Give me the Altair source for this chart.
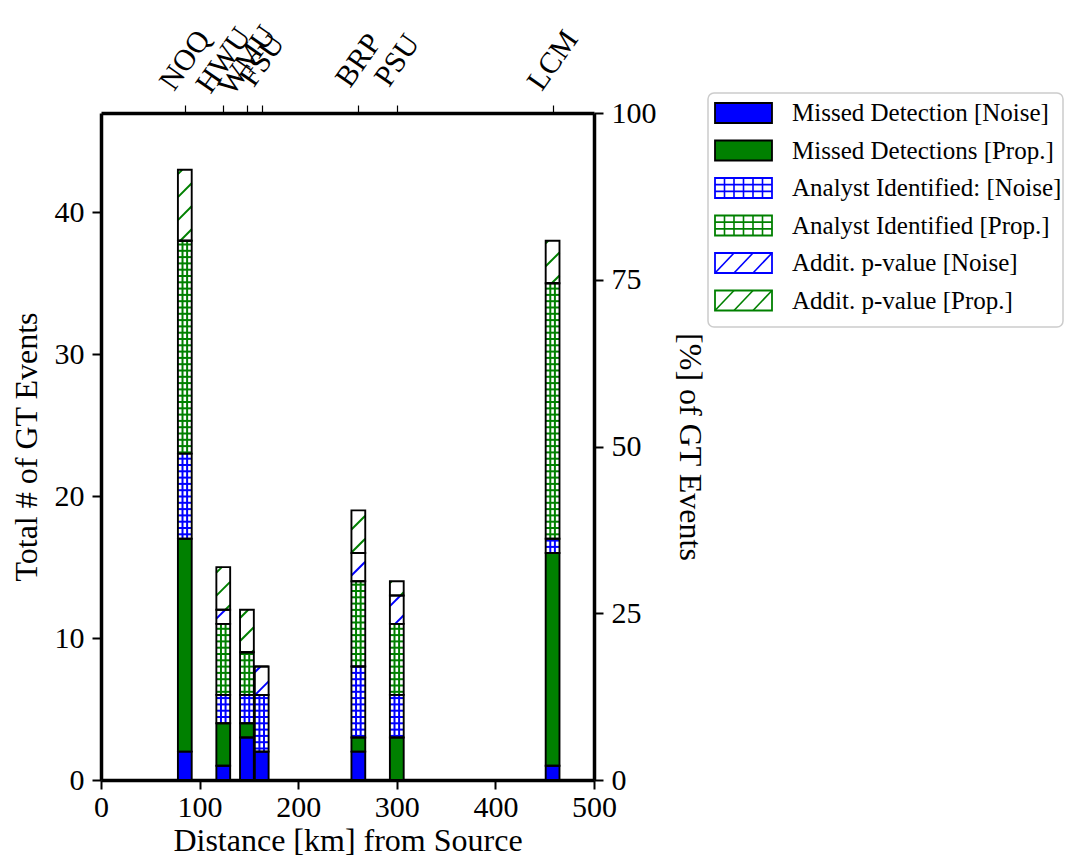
import json
import altair as alt
import pandas as pd

# ---------------- data ----------------
stations = ["NOQ", "HWU", "WMU", "FSU", "BRP", "PSU", "LCM"]
distance_km = [85, 124, 148, 163, 261, 300, 458]

missed_noise = [2, 1, 3, 2, 2, 0, 1]
missed_prop = [15, 3, 1, 0, 1, 3, 15]
analyst_noise = [6, 2, 2, 4, 5, 3, 1]
analyst_prop = [15, 5, 3, 0, 6, 5, 18]
addit_noise = [0, 1, 0, 2, 2, 2, 0]
addit_prop = [5, 3, 3, 0, 3, 1, 3]

series_labels = [
    "Missed Detection [Noise]",
    "Missed Detections [Prop.]",
    "Analyst Identified: [Noise]",
    "Analyst Identified [Prop.]",
    "Addit. p-value [Noise]",
    "Addit. p-value [Prop.]",
]
series_colors = ["#0000ff", "#008000", "#0000ff", "#008000", "#0000ff", "#008000"]
series_hatch = ["solid", "solid", "grid", "grid", "diag", "diag"]

x_ticks = [0, 100, 200, 300, 400, 500]
y_ticks = [0, 10, 20, 30, 40]
pct_ticks = [0, 25, 50, 75, 100]

# ---------------- layout / style constants ----------------
W, H = 493, 667
X_MAX, Y_MAX = 500, 47
BAR_W = 14
FONT = "Liberation Serif"
KX, KY = W / X_MAX, H / Y_MAX
GRID_PX = 6.3
DIAG_PX = 23.0

series_values = [missed_noise, missed_prop, analyst_noise, analyst_prop, addit_noise, addit_prop]

# ---------------- derived tables ----------------
seg_rows, hatch_rows = [], []
for i, st in enumerate(stations):
    d = distance_km[i]
    x0, x1 = d - BAR_W / 2, d + BAR_W / 2
    base = 0
    for s, vals in enumerate(series_values):
        v = vals[i]
        y0, y1 = base, base + v
        col = series_colors[s]
        kind = series_hatch[s]
        seg_rows.append(dict(station=st, series=series_labels[s], x0=x0, x1=x1, y0=y0, y1=y1,
                             fill=col if kind == "solid" else "white"))
        if v > 0 and kind == "grid":
            for f in (1 / 3, 2 / 3):
                xx = x0 + f * BAR_W
                hatch_rows.append(dict(hx0=xx, hx1=xx, hy0=y0, hy1=y1, color=col))
            step = GRID_PX / KY
            k = int(y0 / step) + 1
            while k * step < y1 - 1e-6:
                hatch_rows.append(dict(hx0=x0, hx1=x1, hy0=k * step, hy1=k * step, color=col))
                k += 1
        if v > 0 and kind == "diag":
            px0, px1, py0, py1 = x0 * KX, x1 * KX, y0 * KY, y1 * KY
            m = int((py0 - px1) // DIAG_PX)
            while m * DIAG_PX <= py1 - px0:
                c = m * DIAG_PX
                lo = max(px0, py0 - c)
                hi = min(px1, py1 - c)
                if hi - lo > 0.5:
                    hatch_rows.append(dict(hx0=lo / KX, hx1=hi / KX, hy0=(lo + c) / KY,
                                           hy1=(hi + c) / KY, color=col))
                m += 1
        base = y1

seg_df = pd.DataFrame(seg_rows)
hatch_df = pd.DataFrame(hatch_rows)

# legend tables
HALF = 10 / 37.5
leg_rows, leg_hatch = [], []
for s, lab in enumerate(series_labels):
    kind = series_hatch[s]
    col = series_colors[s]
    leg_rows.append(dict(idx=s, label=lab, lx0=0, lx1=1, ly0=s - HALF, ly1=s + HALF,
                         fill=col if kind == "solid" else "white",
                         edge="black" if kind == "solid" else col))
    if kind == "grid":
        for k in range(1, 6):
            leg_hatch.append(dict(a0=k / 6, a1=k / 6, b0=s - HALF, b1=s + HALF, color=col))
        for f in (-1 / 3, 1 / 3):
            leg_hatch.append(dict(a0=0, a1=1, b0=s + f * HALF, b1=s + f * HALF, color=col))
    if kind == "diag":
        for k in range(3):
            leg_hatch.append(dict(a0=k / 3, a1=(k + 1) / 3, b0=s + HALF, b1=s - HALF, color=col))
leg_df = pd.DataFrame(leg_rows)
leg_hatch_df = pd.DataFrame(leg_hatch)

# ---------------- axes ----------------
ax_common = dict(
    domainColor="black", domainWidth=3.5, tickColor="black", tickWidth=2, tickSize=9,
    labelFont=FONT, labelFontSize=30, labelColor="black", grid=False,
    titleFont=FONT, titleFontSize=32, titleFontWeight="normal", titleColor="black",
    labelOverlap=False, labelFlush=False,
)

xs = alt.Scale(domain=[0, X_MAX], nice=False, zero=False)
ys = alt.Scale(domain=[0, Y_MAX], nice=False, zero=False)

x_axis = alt.Axis(title="Distance [km] from Source", values=x_ticks, labelPadding=3,
                  titlePadding=3, **ax_common)
y_axis = alt.Axis(title="Total # of GT Events", values=y_ticks, labelPadding=8,
                  titlePadding=11, **ax_common)

bars = alt.Chart(seg_df).mark_rect(strokeWidth=0).encode(
    x=alt.X("x0:Q", scale=xs, axis=x_axis),
    x2="x1:Q",
    y=alt.Y("y0:Q", scale=ys, axis=y_axis),
    y2="y1:Q",
    fill=alt.Fill("fill:N", scale=None),
)
hatch = alt.Chart(hatch_df).mark_rule(strokeWidth=2).encode(
    x=alt.X("hx0:Q", scale=xs), x2="hx1:Q",
    y=alt.Y("hy0:Q", scale=ys), y2="hy1:Q",
    stroke=alt.Stroke("color:N", scale=None),
)
outlines = alt.Chart(seg_df).mark_rect(fillOpacity=0, stroke="black", strokeWidth=1.9).encode(
    x=alt.X("x0:Q", scale=xs), x2="x1:Q",
    y=alt.Y("y0:Q", scale=ys), y2="y1:Q",
)
main = alt.layer(bars, hatch, outlines)

# right axis (percent)
pct_df = pd.DataFrame({"pct": pct_ticks})
right = alt.Chart(pct_df).mark_point(opacity=0).encode(
    y=alt.Y("pct:Q", scale=alt.Scale(domain=[0, 100], nice=False, zero=False),
            axis=alt.Axis(orient="right", title="[%] of GT Events", values=pct_ticks,
                          labelPadding=8, titlePadding=16, **ax_common)),
)

# top axis (stations)
label_expr = "{}[indexof({}, datum.value)]".format(json.dumps(stations), json.dumps(distance_km))
top_common = dict(ax_common)
top_common.update(tickWidth=1.2, tickSize=8, labelFontSize=30)
st_df = pd.DataFrame({"station": stations, "distance": distance_km})
top = alt.Chart(st_df).mark_point(opacity=0).encode(
    x=alt.X("distance:Q", scale=xs,
            axis=alt.Axis(orient="top", title=None, values=distance_km, labelExpr=label_expr,
                          labelAngle=305, labelAlign="center", labelBaseline="middle",
                          labelPadding=45, **top_common)),
)

# legend
lxs = alt.Scale(domain=[0, 1], range=[614, 671], nice=False, zero=False)
lys = alt.Scale(domain=[0, 5], range=[0, 187.5], nice=False, zero=False)
box = alt.Chart(alt.Data(values=[{}])).mark_rect(
    fill="white", stroke="#cccccc", strokeWidth=1.5, cornerRadius=6
).encode(x=alt.value(607), x2=alt.value(962), y=alt.value(-20), y2=alt.value(214))
swatch = alt.Chart(leg_df).mark_rect(strokeWidth=1.8).encode(
    x=alt.X("lx0:Q", scale=lxs, axis=None), x2="lx1:Q",
    y=alt.Y("ly0:Q", scale=lys, axis=None), y2="ly1:Q",
    fill=alt.Fill("fill:N", scale=None),
    stroke=alt.Stroke("edge:N", scale=None),
)
leg_lines = alt.Chart(leg_hatch_df).mark_rule(strokeWidth=1.6).encode(
    x=alt.X("a0:Q", scale=lxs, axis=None), x2="a1:Q",
    y=alt.Y("b0:Q", scale=lys, axis=None), y2="b1:Q",
    stroke=alt.Stroke("color:N", scale=None),
)
leg_text = alt.Chart(leg_df).mark_text(
    align="left", baseline="middle", dx=20, font=FONT, fontSize=25, color="black"
).encode(
    x=alt.X("lx1:Q", scale=lxs, axis=None),
    y=alt.Y("idx:Q", scale=lys, axis=None),
    text="label:N",
)
legend = alt.layer(box, swatch, leg_lines, leg_text)

chart = alt.layer(main, right, top, legend).resolve_scale(
    x="independent", y="independent"
).properties(
    width=W, height=H,
    padding={"left": 93, "top": 105, "right": 476, "bottom": 77},
    autosize=alt.AutoSizeParams(type="none"),
    background="white",
).configure_view(stroke=None)

chart.save("out.html", embed_options={"renderer": "svg", "actions": False})
